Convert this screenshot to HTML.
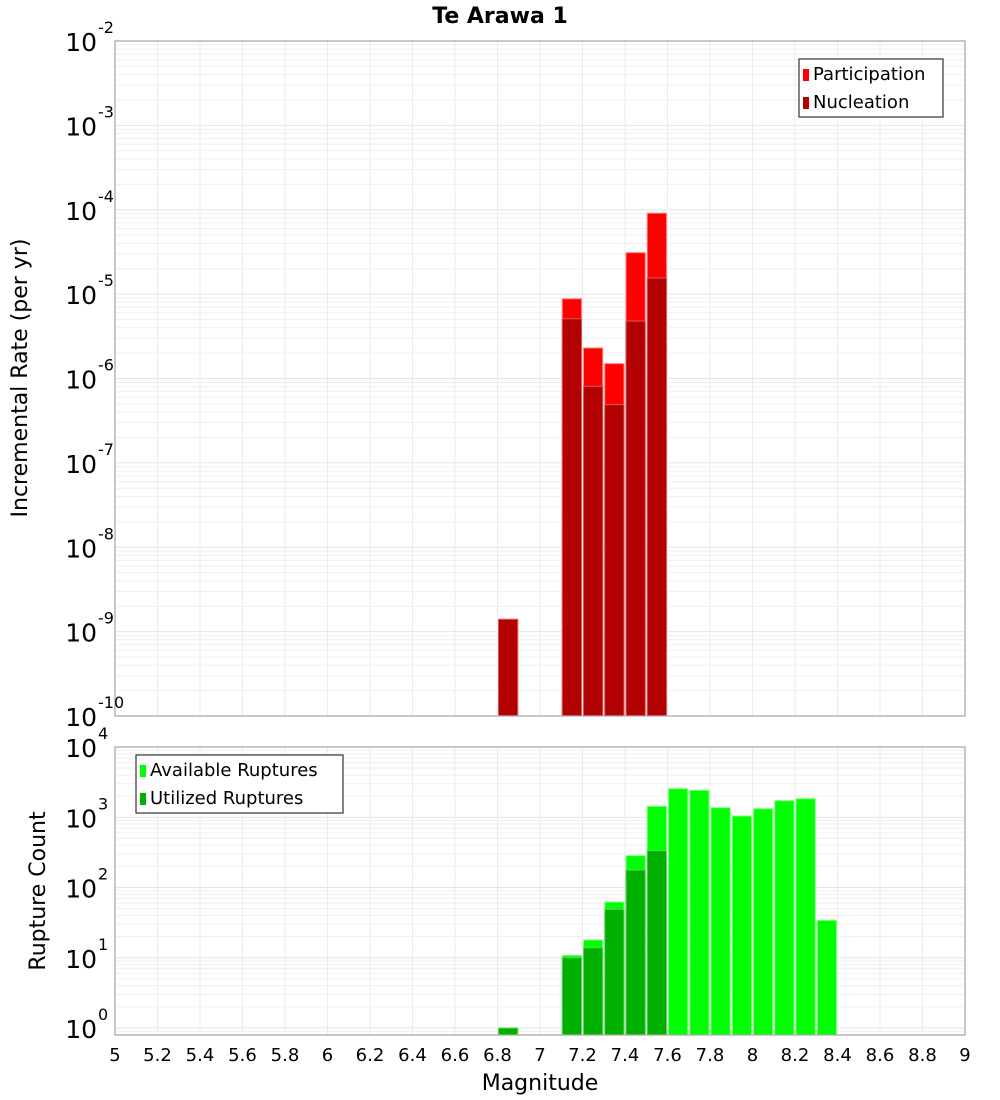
<!DOCTYPE html>
<html><head><meta charset="utf-8"><style>
body{margin:0;background:#fff;}
svg{display:block;font-family:"DejaVu Sans","Liberation Sans",sans-serif;}
</style></head><body>
<svg id="chart" width="1000" height="1100" xmlns="http://www.w3.org/2000/svg">
<text x="500" y="23" text-anchor="middle" font-size="22" font-weight="bold">Te Arawa 1</text>
<g id="top"></g><g id="bot"></g>
<text transform="translate(27,378) rotate(-90)" text-anchor="middle" font-size="22">Incremental Rate (per yr)</text>
<text transform="translate(45,891) rotate(-90)" text-anchor="middle" font-size="22">Rupture Count</text>
<text x="540" y="1090" text-anchor="middle" font-size="22">Magnitude</text>
</svg>
<script>
const topMags=[6.8,7.1,7.2,7.3,7.4,7.5];
const participation=[1.4e-9,8.8e-6,2.3e-6,1.5e-6,3.1e-5,9.1e-5];
const nucleation=[1.4e-9,5.1e-6,8.1e-7,4.9e-7,4.8e-6,1.55e-5];
const botMags=[6.8,7.1,7.2,7.3,7.4,7.5,7.6,7.7,7.8,7.9,8.0,8.1,8.2,8.3];
const available=[1,10.8,17.9,62,284,1432,2550,2420,1370,1042,1324,1721,1837,34];
const utilized=[1,10,13.9,49,177,334,0,0,0,0,0,0,0,0];
const xTicks=[5,5.2,5.4,5.6,5.8,6,6.2,6.4,6.6,6.8,7,7.2,7.4,7.6,7.8,8,8.2,8.4,8.6,8.8,9];
const topExp=[-2,-3,-4,-5,-6,-7,-8,-9,-10];
const botExp=[4,3,2,1,0];
const NS='http://www.w3.org/2000/svg';
const L=115,R=965;
const xs=m=>L+(m-5)/4*(R-L);
function el(p,t,a,name){const e=document.createElementNS(NS,t);for(const k in a)e.setAttribute(k,a[k]);


p.appendChild(e);return e;}
function panel(g,top,bot,yAt,lo,hi,exps,series,colors,edge,legend,legPos,prefix){
  el(g,'rect',{x:L,y:top,width:R-L,height:bot-top,fill:'#fff'},prefix+'-plot-area');
  for(let e=lo;e<hi;e++)for(let k=1;k<10;k++){const y=yAt(k*Math.pow(10,e));if(y<top||y>bot)continue;
    el(g,'line',{x1:L,x2:R,y1:y,y2:y,stroke:k==1?'#e4e4e4':'#efefef','stroke-width':1},prefix+'-y-grid');}
  xTicks.forEach(t=>{const x=xs(t);el(g,'line',{x1:x,x2:x,y1:top,y2:bot,stroke:'#ebebeb'},prefix+'-x-grid');});
  series.forEach((s,si)=>{s.vals.forEach((v,i)=>{if(!v)return;const y=yAt(v);
    el(g,'rect',{x:xs(s.mags[i])+1,y:y,width:xs(s.mags[i]+0.1)-xs(s.mags[i])-2,height:bot-y,fill:colors[si],stroke:edge[si],'stroke-width':1},prefix+'-bar-'+s.name+'-'+s.mags[i]);});});
  el(g,'rect',{x:L,y:top,width:R-L,height:bot-top,fill:'none',stroke:'#aaa','stroke-width':1.3},prefix+'-plot-border');
  exps.forEach(e=>{const y=yAt(Math.pow(10,e));const t=el(g,'text',{x:97,y:y+10,'text-anchor':'end','font-size':25},prefix+'-y-tick-label');
    t.textContent='10';const s=el(g,'text',{x:98,y:y-8,'font-size':16},prefix+'-y-tick-exp');s.textContent=e;});
  const [lx,ly,lw]=legPos;
  el(g,'rect',{x:lx,y:ly,width:lw,height:58,fill:'#fff',stroke:'#333','stroke-width':1.2},prefix+'-legend');
  legend.forEach((n,i)=>{el(g,'rect',{x:lx+4,y:ly+10+i*28,width:6,height:12,fill:colors[i]},prefix+'-legend-swatch');
    const t=el(g,'text',{x:lx+14,y:ly+21+i*28,'font-size':18},prefix+'-legend-label');t.textContent=n;});
}
const tt=document.getElementById('top'),bb=document.getElementById('bot');
const ty=v=>41+(-2-Math.log10(v))*84.375;
panel(tt,41,716,ty,-10,-2,topExp,[{name:'participation',mags:topMags,vals:participation},{name:'nucleation',mags:topMags,vals:nucleation}],
 ['#ff0000','#b30000'],['#ff8080','#d06060'],['Participation','Nucleation'],[799,59,144],'top');
const by=v=>1028-Math.log10(v)*70.25;
panel(bb,747,1035,by,-1,4,botExp,[{name:'available',mags:botMags,vals:available},{name:'utilized',mags:botMags,vals:utilized}],
 ['#00ff00','#00b000'],['#80ff80','#60d060'],['Available Ruptures','Utilized Ruptures'],[136,755,207],'bottom');
xTicks.forEach(t=>{const x=el(bb,'text',{x:xs(t),y:1061,'text-anchor':'middle','font-size':18},'x-tick-label');x.textContent=String(t);});
</script>
</body></html>
